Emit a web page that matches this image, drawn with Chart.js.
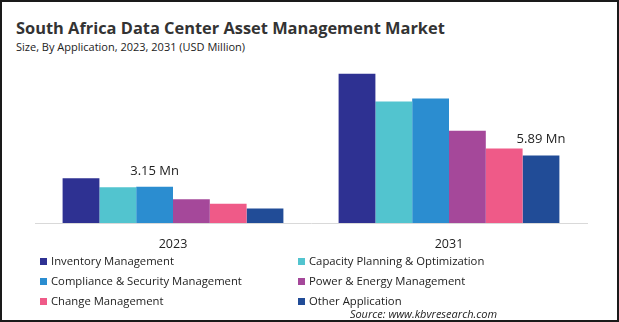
<!DOCTYPE html>
<html>
<head>
<meta charset="utf-8">
<script src="https://cdn.jsdelivr.net/npm/chart.js@4.4.1/dist/chart.umd.min.js"></script>
<style>
  html, body { margin: 0; padding: 0; background: #fff; }
  .frame {
    position: relative; width: 619px; height: 322px; box-sizing: border-box;
    border: 2px solid #1a1a1a; font-family: "Open Sans", sans-serif; color: #222; overflow: hidden;
  }
  .title { position: absolute; left: 14px; top: 14px; font-size: 16.4px; font-weight: 700; color: #333; white-space: nowrap; }
  .subtitle { position: absolute; left: 14px; top: 37px; font-size: 11px; color: #222; white-space: nowrap; }
  canvas { position: absolute; left: -2px; top: -2px; }
  .legend { position: absolute; left: 38px; top: 250px; width: 560px; }
  .legend .item { position: absolute; font-size: 11.3px; white-space: nowrap; line-height: 18px; }
  .legend .box { display: inline-block; width: 7px; height: 7px; margin-right: 4px; vertical-align: 0px; }
  .source { position: absolute; right: 120px; top: 304px; font-size: 11px; font-style: italic; color: #222; }
</style>
</head>
<body>
<div class="frame">
  <div class="title">South Africa Data Center Asset Management Market</div>
  <div class="subtitle">Size, By Application, 2023, 2031 (USD Million)</div>
  <canvas id="chart" width="619" height="322"></canvas>
  <div class="legend" id="legend"></div>
  <div class="source">Source: www.kbvresearch.com</div>
</div>
<script>
// years on the x axis
const years = ['2023', '2031'];

// application segments, in legend order
const segments = [
  'Inventory Management',
  'Capacity Planning & Optimization',
  'Compliance & Security Management',
  'Power & Energy Management',
  'Change Management',
  'Other Application'
];
const colors = ['#2e3192', '#52c4cf', '#2b8dd0', '#a5489a', '#ef5a88', '#214c97'];

// market size per segment, USD million
const inventory  = [3.91, 13.0];
const capacity   = [3.12, 10.58];
const compliance = [3.15, 10.85];
const power      = [2.06, 8.04];
const change     = [1.67, 6.5];
const other      = [1.27, 5.89];

// which bars carry a value label: [segment index, year index]
const valueLabels = [[2, 0], [5, 1]];

const series = [inventory, capacity, compliance, power, change, other];

const valueLabelPlugin = {
  id: 'valueLabels',
  afterDatasetsDraw(chart) {
    const ctx = chart.ctx;
    ctx.save();
    ctx.font = '13px "Open Sans", sans-serif';
    ctx.fillStyle = '#222';
    ctx.textAlign = 'center';
    ctx.textBaseline = 'middle';
    valueLabels.forEach(([ds, i]) => {
      const bar = chart.getDatasetMeta(ds).data[i];
      const v = chart.data.datasets[ds].data[i];
      ctx.fillText(v.toFixed(2) + ' Mn', bar.x, bar.y - 16);
    });
    ctx.restore();
  }
};

new Chart(document.getElementById('chart'), {
  type: 'bar',
  data: {
    labels: years,
    datasets: series.map((d, k) => ({
      label: segments[k],
      data: d,
      backgroundColor: colors[k],
      borderWidth: 0,
      barPercentage: 1,
      categoryPercentage: 0.8
    }))
  },
  options: {
    responsive: false,
    animation: false,
    layout: { padding: { left: 35, right: 32, top: 62, bottom: 57 } },
    scales: {
      x: {
        grid: { display: false, drawTicks: false },
        border: { display: true, color: '#d9d9d9', width: 1 },
        ticks: { color: '#222', font: { family: 'Open Sans', size: 12.5 }, padding: 13.5 }
      },
      y: { display: false, min: 0, max: 14.03 }
    },
    plugins: {
      legend: { display: false },
      tooltip: { enabled: false }
    }
  },
  plugins: [valueLabelPlugin]
});

// two-column legend
const legend = document.getElementById('legend');
segments.forEach((name, k) => {
  const el = document.createElement('div');
  el.className = 'item';
  el.style.left = (k % 2 ? 258 : 0) + 'px';
  el.style.top = (Math.floor(k / 2) * 20) + 'px';
  el.innerHTML = '<span class="box" style="background:' + colors[k] + '"></span>' + name.replace('&', '&amp;');
  legend.appendChild(el);
});
</script>
</body>
</html>
